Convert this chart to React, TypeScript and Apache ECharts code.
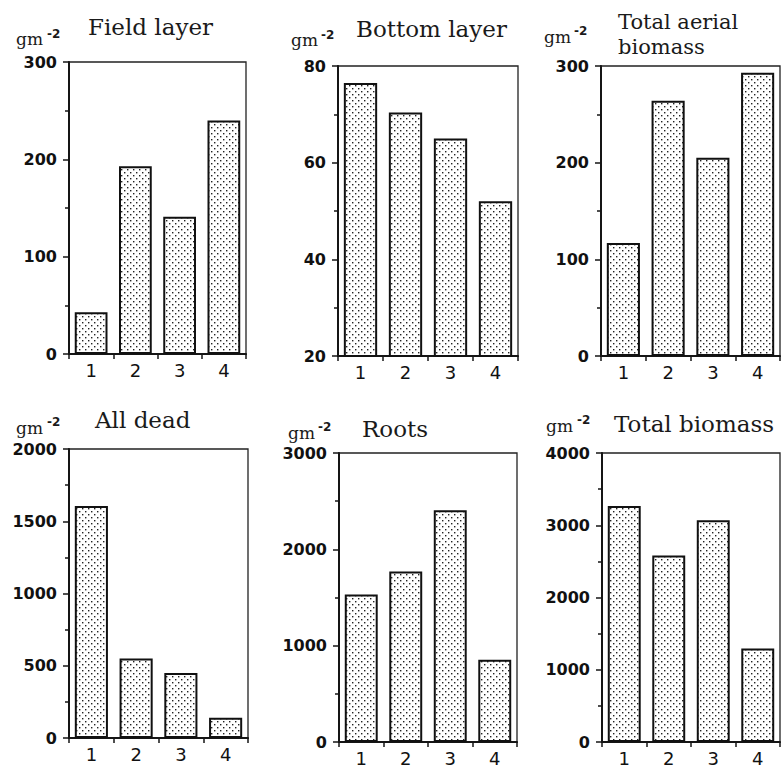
import React, { useEffect, useRef } from "react";
import * as echarts from "echarts";

const categories = ["1", "2", "3", "4"];
const fieldLayer = [43, 193, 141, 240];
const bottomLayer = [76.5, 70.4, 65, 52];
const totalAerial = [117, 264, 205, 293];
const allDead = [1605, 550, 450, 140];
const roots = [1530, 1770, 2405, 855];
const totalBiomass = [3265, 2580, 3070, 1293];

const panelTitles = ["Field layer", "Bottom layer", "Total aerial\nbiomass", "All dead", "Roots", "Total biomass"];
const yMins = [0, 20, 0, 0, 0, 0];
const yMaxs = [300, 80, 300, 2000, 3000, 4000];
const yIntervals = [100, 20, 100, 500, 1000, 1000];
const unitMain = "gm";
const unitSup = "-2";

const seriesData = [fieldLayer, bottomLayer, totalAerial, allDead, roots, totalBiomass];

const grids = [
  { left: 69, top: 62, width: 177, height: 292 },
  { left: 338, top: 66, width: 180, height: 290 },
  { left: 601, top: 66, width: 179, height: 290 },
  { left: 69, top: 449, width: 179, height: 289 },
  { left: 339, top: 453, width: 178, height: 289 },
  { left: 602, top: 453, width: 178, height: 289 },
];

const titlePos = [
  { x: 88, y: 27, size: 23, lh: 23 },
  { x: 356, y: 29, size: 23, lh: 23 },
  { x: 618, y: 34, size: 21, lh: 25 },
  { x: 95, y: 420, size: 23, lh: 23 },
  { x: 362, y: 429, size: 23, lh: 23 },
  { x: 614, y: 424, size: 23, lh: 23 },
];
const unitPos = [
  { x: 16, y: 39, sx: 47, sy: 34 },
  { x: 291, y: 40, sx: 321, sy: 35 },
  { x: 544, y: 37, sx: 574, sy: 31 },
  { x: 16, y: 428, sx: 47, sy: 422 },
  { x: 288, y: 433, sx: 318, sy: 427 },
  { x: 546, y: 426, sx: 577, sy: 420 },
];

function makePattern(): HTMLCanvasElement {
  const c = document.createElement("canvas");
  c.width = 6;
  c.height = 6;
  const ctx = c.getContext("2d")!;
  ctx.fillStyle = "#ffffff";
  ctx.fillRect(0, 0, 6, 6);
  ctx.fillStyle = "#222222";
  ctx.fillRect(1, 1, 1.4, 1.4);
  ctx.fillRect(4, 4, 1.4, 1.4);
  return c;
}

export default function App() {
  const ref = useRef<HTMLDivElement>(null);
  useEffect(() => {
    if (!ref.current) return;
    const chart = echarts.init(ref.current, undefined, { renderer: "svg" });
    const pattern = makePattern();
    const ink = "#151515";

    const graphic: any[] = [];
    panelTitles.forEach((t, i) => {
      graphic.push({
        type: "text",
        x: titlePos[i].x,
        y: titlePos[i].y,
        style: {
          text: t,
          font: titlePos[i].size + 'px "DejaVu Serif"',
          fill: "#1a1a1a",
          verticalAlign: "middle",
          textAlign: "left",
          lineHeight: titlePos[i].lh,
        },
      });
      graphic.push({
        type: "text",
        x: unitPos[i].x,
        y: unitPos[i].y,
        style: { text: unitMain, font: '17px "DejaVu Serif"', fill: "#1a1a1a", verticalAlign: "middle" },
      });
      graphic.push({
        type: "text",
        x: unitPos[i].sx,
        y: unitPos[i].sy,
        style: { text: unitSup, font: 'bold 12px "DejaVu Sans"', fill: "#1a1a1a", verticalAlign: "middle" },
      });
    });

    const option: any = {
      animation: false,
      backgroundColor: "#ffffff",
      grid: grids.map((g) => ({
        ...g,
        show: true,
        borderColor: "#222",
        borderWidth: 1.3,
        backgroundColor: "transparent",
        containLabel: false,
      })),
      xAxis: grids.map((_, i) => ({
        type: "category",
        gridIndex: i,
        data: categories,
        boundaryGap: true,
        axisLine: { show: true, lineStyle: { color: ink, width: 2 } },
        axisTick: { show: true, length: 5, lineStyle: { color: ink, width: 1.5 } },
        axisLabel: { fontFamily: "DejaVu Sans", fontSize: 18, color: "#111", margin: 7 },
        splitLine: { show: false },
      })),
      yAxis: grids.map((_, i) => ({
        type: "value",
        gridIndex: i,
        min: yMins[i],
        max: yMaxs[i],
        interval: yIntervals[i],
        axisLine: { show: true, lineStyle: { color: ink, width: 2 } },
        axisTick: { show: true, length: 6, lineStyle: { color: ink, width: 1.5 } },
        minorTick: { show: true, splitNumber: 2, length: 4, lineStyle: { color: ink, width: 1.5 } },
        axisLabel: {
          fontFamily: "DejaVu Sans",
          fontWeight: "bold",
          fontSize: 16,
          color: "#111",
          margin: 12,
          formatter: (v: number) => String(v),
        },
        splitLine: { show: false },
        minorSplitLine: { show: false },
      })),
      series: seriesData.map((d, i) => ({
        type: "bar",
        xAxisIndex: i,
        yAxisIndex: i,
        data: d,
        barWidth: "74%",
        itemStyle: {
          color: { image: pattern, repeat: "repeat" },
          borderColor: "#111",
          borderWidth: 2,
        },
        silent: true,
      })),
      graphic,
    };
    chart.setOption(option);
    return () => chart.dispose();
  }, []);
  return (
    <div
      ref={ref}
      style={{ position: "fixed", left: 0, top: 0, width: 782, height: 770, background: "#fff" }}
    />
  );
}
